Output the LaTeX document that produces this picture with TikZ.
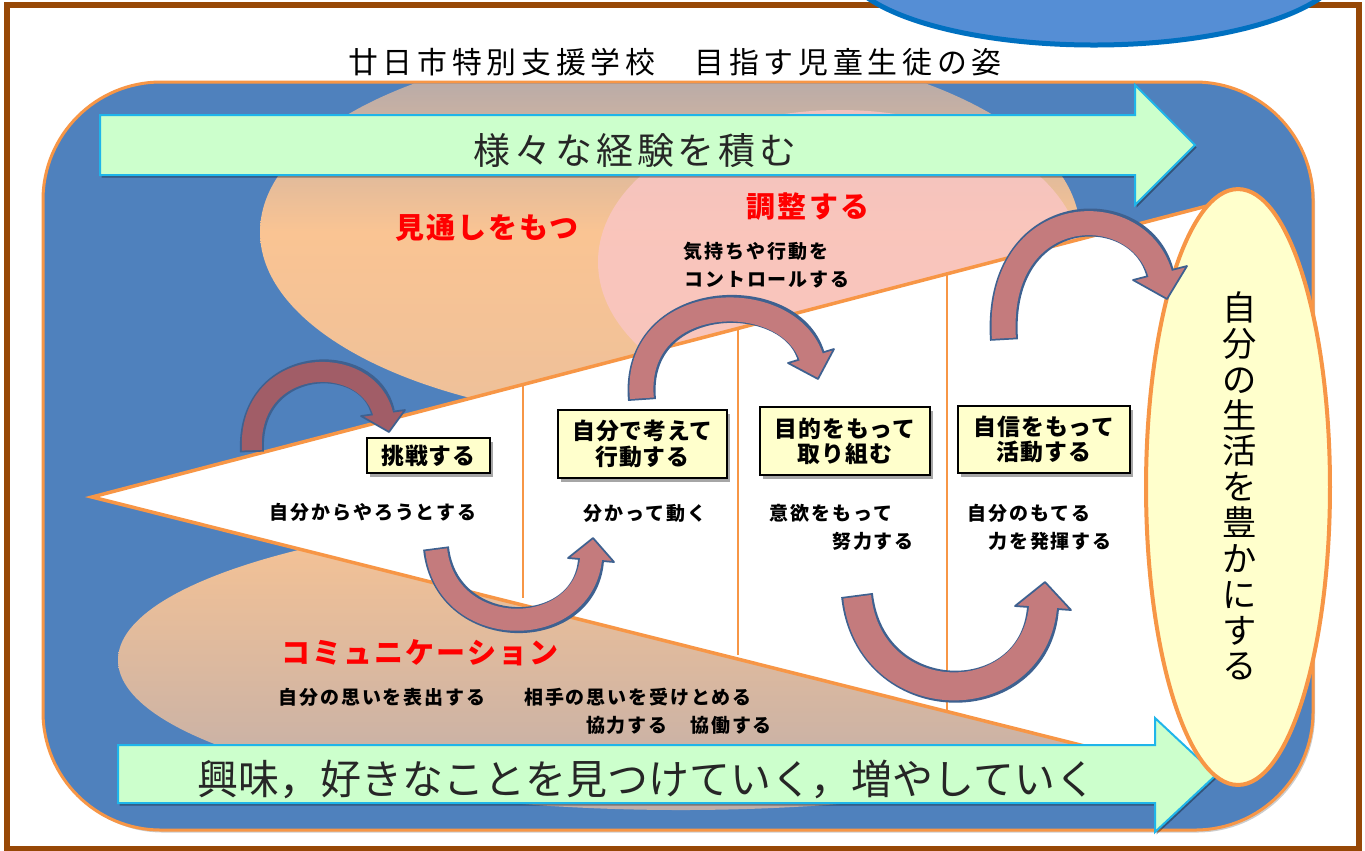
\documentclass[tikz,border=0pt]{standalone}
\usepackage{fontspec}
\setmainfont{Noto Sans CJK JP}
\usetikzlibrary{shadows,shapes.geometric}
\definecolor{framebrown}{HTML}{974806}
\definecolor{bgblue}{HTML}{4F81BD}
\definecolor{orng}{HTML}{F79646}
\definecolor{ellblue}{HTML}{558ED5}
\definecolor{ellblueb}{HTML}{0070C0}
\definecolor{grn}{HTML}{CCFFCC}
\definecolor{cyanb}{HTML}{1FB5EA}
\definecolor{peach}{HTML}{FAC493}
\definecolor{peachtop}{HTML}{A9A5AD}
\definecolor{peachbot}{HTML}{EDC09A}
\definecolor{peachlow}{HTML}{BFAEAA}
\definecolor{pinkc}{HTML}{FAC6C6}
\definecolor{ylw}{HTML}{FFFFCC}
\definecolor{arrf}{HTML}{C47B7D}
\definecolor{arrfd}{HTML}{A15D67}
\definecolor{arrb}{HTML}{3E6190}
\definecolor{redt}{HTML}{FF0000}
\tikzset{
  titlefont/.style={inner sep=0pt, font=\fontsize{17pt}{19pt}\selectfont\addfontfeatures{LetterSpace=16}},
  bigtxt/.style={inner sep=0pt, text=black!85, font=\fontsize{21pt}{24pt}\selectfont\addfontfeatures{LetterSpace=11}},
  bigtxtb/.style={inner sep=0pt, text=black!85, font=\fontsize{23.3pt}{26pt}\selectfont},
  redlbl/.style={inner sep=0pt, text=redt, font=\fontsize{16.5pt}{18pt}\selectfont\bfseries\addfontfeatures{LetterSpace=7}},
  smalltxt/.style={inner sep=0pt, font=\fontsize{10.8pt}{12pt}\selectfont\bfseries\addfontfeatures{LetterSpace=10}},
  box/.style={draw=black, fill=ylw, line width=0.03cm, inner sep=0pt, align=center,
    font=\fontsize{13pt}{14.4pt}\selectfont\bfseries\addfontfeatures{LetterSpace=4},
    drop shadow={shadow xshift=0.06cm, shadow yshift=-0.07cm, fill=black, opacity=0.35}},
  greenarrow/.style={draw=cyanb, fill=grn, line width=0.04cm,
    drop shadow={shadow xshift=0.03cm, shadow yshift=-0.05cm, fill=black, opacity=0.35}},
  sepline/.style={orng, line width=0.03cm},
  arrowedge/.style={arrb, line width=#1},
  arrowbody/.style={line width=#1, shorten <=0.035cm, shorten >=-0.08cm},
  arrowhead/.style={draw=arrb, line width=0.035cm, line join=round},
}
\begin{document}
\begin{tikzpicture}[x=0.02cm, y=-0.02cm]
\useasboundingbox (0,0) rectangle (1365,850);
\fill[white] (0,0) rectangle (1365,850);
\draw[framebrown, line width=0.12cm] (7,4.5) rectangle (1359,849);

% title
\node[titlefont] (title) at (675,62) {廿日市特別支援学校　目指す児童生徒の姿};

% background rounded panel
\draw[orng, fill=bgblue, line width=0.06cm, rounded corners=2.36cm,
  drop shadow={shadow xshift=0.04cm, shadow yshift=-0.05cm, fill=black, opacity=0.2}]
  (43,82) rectangle (1313,830);

\begin{scope}
  \clip[rounded corners=2.3cm] (44.5,83.5) rectangle (1311.5,828.5);
  \shade[top color=peachtop, bottom color=peachbot, middle color=peach]
    (670,232) ellipse [x radius=410, y radius=190];
  \fill[pinkc, fill opacity=0.8] (840,262) ellipse [x radius=242, y radius=152];
  \shade[top color=peach, bottom color=peachlow]
    (681,660) ellipse [x radius=563, y radius=150];
\end{scope}

% white wedge
\fill[white] (92,497) -- (1230,200) -- (1200,775) -- cycle;
\draw[orng, line width=0.07cm, line join=miter] (1230,200) -- (92,497) -- (1200,775);

% separators
\draw[sepline] (523,384) -- (523,598);
\draw[sepline] (738,328) -- (738,655);
\draw[sepline] (947,272) -- (947,710);

% green arrows
\draw[greenarrow] (100,115) -- (1135,115) -- (1135,85) -- (1195,145) -- (1135,205) -- (1135,175) -- (100,175) -- cycle;
\draw[greenarrow] (118,745) -- (1155,745) -- (1155,718) -- (1216,775) -- (1155,832) -- (1155,803) -- (118,803) -- cycle;

\node[bigtxt] (exp) at (635,151) {様々な経験を積む};
\node[bigtxtb] (interest) at (647,779) {興味，好きなことを見つけていく，増やしていく};

% goal ellipse
\node[ellipse, draw=orng, fill=ylw, line width=0.08cm, minimum width=3.68cm, minimum height=11.92cm, inner sep=0pt] (goal) at (1238,487) {};
\node[inner sep=0pt, align=center, font=\fontsize{19.5pt}{20.4pt}\selectfont] (goaltext) at (1240,486)
  {自\\分\\の\\生\\活\\を\\豊\\か\\に\\す\\る};

% curved arrows
% A1
\draw[arrowedge=0.48cm] (252,452) .. controls (247,355) and (370,350) .. (383,413);
\filldraw[arrowhead, fill=arrfd] (361,416) -- (389,432) -- (405,410) -- cycle;
\draw[arrowbody=0.40cm, arrfd] (252,452) .. controls (247,355) and (370,350) .. (383,413);
% A2
\draw[arrowedge=0.56cm] (642,400) .. controls (632,290) and (790,285) .. (811,356);
\filldraw[arrowhead, fill=arrf] (788,363) -- (818,379) -- (834,349) -- cycle;
\draw[arrowbody=0.48cm, arrf] (642,400) .. controls (632,290) and (790,285) .. (811,356);
% A3
\draw[arrowedge=0.56cm] (1004,340) .. controls (995,200) and (1140,195) .. (1160,273);
\filldraw[arrowhead, fill=arrf] (1133,280) -- (1167,299) -- (1187,266) -- cycle;
\draw[arrowbody=0.48cm, arrf] (1004,340) .. controls (995,200) and (1140,195) .. (1160,273);
% A4
\draw[arrowedge=0.52cm] (436,548) .. controls (446,642) and (585,642) .. (591,560);
\filldraw[arrowhead, fill=arrf] (568,558) -- (593,538) -- (614,562) -- cycle;
\draw[arrowbody=0.44cm, arrf] (436,548) .. controls (446,642) and (585,642) .. (591,560);
% A5
\draw[arrowedge=0.64cm] (857,595) .. controls (870,715) and (1035,715) .. (1043,608);
\filldraw[arrowhead, fill=arrf] (1015,606) -- (1045,582) -- (1071,610) -- cycle;
\draw[arrowbody=0.56cm, arrf] (857,595) .. controls (870,715) and (1035,715) .. (1043,608);

% red labels
\node[redlbl] (mitoshi) at (487,228) {見通しをもつ};
\node[redlbl] (chousei) at (808,207) {調整する};
\node[redlbl] (commu) at (420,653) {コミュニケーション};

% boxes
\node[box, minimum width=2.46cm, minimum height=0.70cm] (b1) at (428.5,455.5) {挑戦する};
\node[box, minimum width=3.38cm, minimum height=1.36cm] (b2) at (642.5,444) {自分で考えて\\行動する};
\node[box, minimum width=3.40cm, minimum height=1.36cm] (b3) at (845,441) {目的をもって\\取り組む};
\node[box, minimum width=3.44cm, minimum height=1.34cm] (b4) at (1044,439.5) {自信をもって\\活動する};

% small texts
\node[smalltxt] (t1) at (373,512) {自分からやろうとする};
\node[smalltxt] (t2) at (645,513) {分かって動く};
\node[smalltxt] (t3) at (831,513) {意欲をもって};
\node[smalltxt] (t4) at (873,541) {努力する};
\node[smalltxt] (t5) at (1029,513) {自分のもてる};
\node[smalltxt] (t6) at (1050,541) {力を発揮する};
\node[smalltxt] (t7) at (756,251) {気持ちや行動を};
\node[smalltxt] (t8) at (767,280) {コントロールする};
\node[smalltxt] (t9) at (382,697) {自分の思いを表出する};
\node[smalltxt] (t10) at (638,697) {相手の思いを受けとめる};
\node[smalltxt] (t11) at (679,725) {協力する　協働する};

% top blue ellipse
\draw[ellblueb, fill=ellblue, line width=0.1cm] (1094,-37) ellipse [x radius=250, y radius=82];
\end{tikzpicture}
\end{document}
